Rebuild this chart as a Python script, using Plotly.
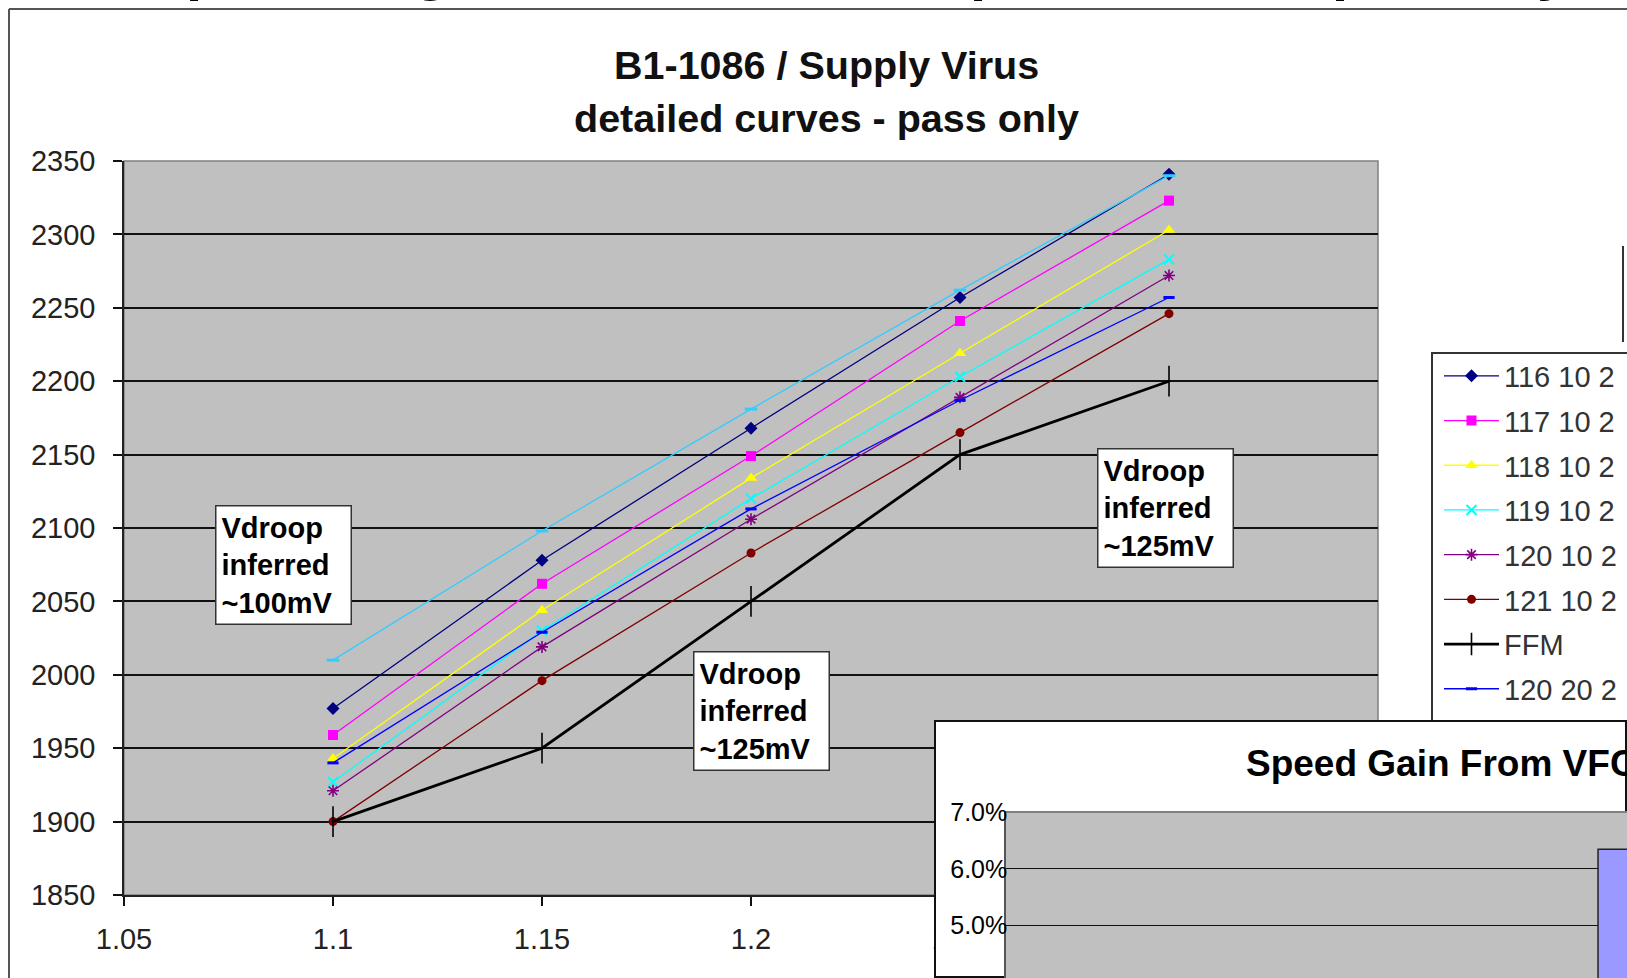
import plotly.graph_objects as go

W, H = 1627, 978
FONT = "Liberation Sans, Arial, sans-serif"

# Supply voltage (V)
vcc = [1.1, 1.15, 1.2, 1.25, 1.3]

# Passing frequency (MHz) for each part / setting
f_116_10_2 = [1977, 2078, 2168, 2257, 2341]
f_117_10_2 = [1959, 2062, 2149, 2241, 2323]
f_118_10_2 = [1943, 2044, 2134, 2219, 2303]
f_119_10_2 = [1927, 2030, 2120, 2203, 2283]
f_120_10_2 = [1921, 2019, 2106, 2189, 2272]
f_121_10_2 = [1900, 1996, 2083, 2165, 2246]
f_ffm = [1900, 1950, 2050, 2150, 2200]
f_120_20_2 = [1940, 2029, 2113, 2187, 2257]
f_116_20_2 = [2010, 2098, 2181, 2262, 2340]

x_ticks = [1.05, 1.1, 1.15, 1.2, 1.25, 1.3, 1.35]
x_tick_text = ["1.05", "1.1", "1.15", "1.2", "1.25", "1.3", "1.35"]

# Speed gain inset
gain_pos = [0]
gain_pct = [6.35]
gain_ticks = [5, 6, 7]
gain_tick_text = ["5.0%", "6.0%", "7.0%"]
gain_low_label = "4.0%"


def px_x(p):
    return p / W


def px_y(p):
    return 1 - p / H


series = [
    ("116 10 2", f_116_10_2, "#000080", "diamond", 10, 1.3, None),
    ("117 10 2", f_117_10_2, "#FF00FF", "square", 10, 1.3, None),
    ("118 10 2", f_118_10_2, "#FFFF00", "triangle-up", 11, 1.3, None),
    ("119 10 2", f_119_10_2, "#00FFFF", "x-thin-open", 10, 1.3, 2),
    ("120 10 2", f_120_10_2, "#800080", "asterisk-open", 10, 1.3, 1.6),
    ("121 10 2", f_121_10_2, "#800000", "circle", 9, 1.3, None),
    ("FFM", f_ffm, "#000000", "line-ns-open", 22, 2.8, 1.6),
    ("120 20 2", f_120_20_2, "#0000FF", "line-ew-open", 8, 1.3, 3),
]

fig = go.Figure()

for name, ys, color, symbol, size, lw, mlw in series:
    marker = dict(symbol=symbol, size=size, color=color)
    if mlw is not None:
        marker["line"] = dict(color=color, width=mlw)
    else:
        marker["line"] = dict(width=0)
    fig.add_trace(go.Scatter(
        x=vcc, y=ys, name=name, mode="lines+markers",
        line=dict(color=color, width=lw), marker=marker,
        legendgroup=name, xaxis="x", yaxis="y",
    ))

fig.add_trace(go.Scatter(
    x=vcc, y=f_116_20_2, name="116 20 2", mode="lines+markers",
    line=dict(color="#33CCFF", width=1.3),
    marker=dict(symbol="line-ew-open", size=9, color="#33CCFF",
                line=dict(color="#33CCFF", width=3)),
    showlegend=False, xaxis="x", yaxis="y",
))

# White panel of the speed-gain chart laid over the lower right corner
fig.add_trace(go.Scatter(
    x=[0, 1, 1, 0, 0], y=[0, 0, 1, 1, 0], mode="lines", fill="toself",
    fillcolor="white", line=dict(color="#111111", width=4),
    hoverinfo="skip", showlegend=False, xaxis="x2", yaxis="y2",
))

fig.add_trace(go.Bar(
    x=gain_pos, y=gain_pct, width=0.5, name="gain",
    marker=dict(color="#9999FF", line=dict(color="#222222", width=1.5)),
    showlegend=False, xaxis="x3", yaxis="y3",
))

annotations = [
    dict(text="<b>B1-1086 / Supply Virus</b>", x=px_x(827), y=px_y(65),
         font=dict(size=39.5, color="#111111", family=FONT)),
    dict(text="<b>detailed curves - pass only</b>", x=px_x(827), y=px_y(118),
         font=dict(size=39.5, color="#111111", family=FONT)),
    dict(text="<b>Speed Gain From VFC</b>", x=px_x(1244), y=px_y(763),
         xanchor="left", font=dict(size=37, color="#000000", family=FONT)),
    dict(text=gain_low_label, x=px_x(1009), y=px_y(990), xanchor="right",
         font=dict(size=25, color="#000000", family=FONT)),
]
for a in annotations:
    a.update(xref="paper", yref="paper", showarrow=False)
    a.setdefault("xanchor", "center")
    a.setdefault("yanchor", "middle")

boxes = [
    ("Vdroop<br>inferred<br>~100mV", 215, 505),
    ("Vdroop<br>inferred<br>~125mV", 693, 651),
    ("Vdroop<br>inferred<br>~125mV", 1097, 448),
]
for txt, bx, by in boxes:
    annotations.append(dict(
        text="<b>" + txt + "</b>", x=px_x(bx), y=px_y(by), xref="paper", yref="paper",
        xanchor="left", yanchor="top", align="left", showarrow=False, width=124,
        bgcolor="white", bordercolor="#333333", borderwidth=1.5, borderpad=5,
        font=dict(size=29, color="#000000", family=FONT),
    ))

# Tails of the slide heading cut off by the top edge
for ch, gx in [("p", 203), ("g", 431), ("p", 988), ("p", 1349), ("y", 1553)]:
    annotations.append(dict(
        text="<b>" + ch + "</b>", x=px_x(gx), y=px_y(3), xref="paper", yref="paper",
        xanchor="center", yanchor="bottom", showarrow=False,
        font=dict(size=58, color="#000000", family=FONT),
    ))

shapes = [
    # chart frame
    dict(type="line", xref="paper", yref="paper", x0=px_x(9), x1=px_x(9),
         y0=0, y1=px_y(9), line=dict(color="#555555", width=2), layer="below"),
    dict(type="line", xref="paper", yref="paper", x0=px_x(9), x1=1,
         y0=px_y(9), y1=px_y(9), line=dict(color="#555555", width=2), layer="below"),
    # edge of a neighbouring object at the right border
    dict(type="line", xref="paper", yref="paper", x0=px_x(1623), x1=px_x(1623),
         y0=px_y(342), y1=px_y(246), line=dict(color="#333333", width=2), layer="below"),
    # plot area border
    dict(type="rect", xref="x domain", yref="y domain", x0=0, x1=1, y0=0, y1=1,
         line=dict(color="#808080", width=1.5), layer="below"),
    # legend box
    dict(type="rect", xref="paper", yref="paper", x0=px_x(1432), x1=1.05,
         y0=px_y(745), y1=px_y(353), fillcolor="white",
         line=dict(color="#333333", width=2), layer="below"),
]

fig.update_layout(
    width=W, height=H,
    margin=dict(l=0, r=0, t=0, b=0, autoexpand=False),
    paper_bgcolor="white", plot_bgcolor="#C0C0C0",
    font=dict(family=FONT, color="#222222"),
    showlegend=True,
    legend=dict(x=px_x(1439), xanchor="left", y=px_y(350.5), yanchor="top",
                bgcolor="rgba(0,0,0,0)", borderwidth=0, itemwidth=55,
                tracegroupgap=4, traceorder="grouped",
                font=dict(size=29, color="#333333", family=FONT)),
    xaxis=dict(domain=[px_x(124), px_x(1378)], range=[1.05, 1.35], anchor="y",
               tickvals=x_ticks, ticktext=x_tick_text, automargin=False,
               ticks="outside", ticklen=9, tickwidth=1.5, tickcolor="#111111",
               showline=True, linecolor="#222222", linewidth=1.5,
               showgrid=False, zeroline=False,
               tickfont=dict(size=29, color="#222222"), ticklabelstandoff=8),
    yaxis=dict(domain=[px_y(895), px_y(161)], range=[1850, 2350], anchor="x",
               tick0=1850, dtick=50, automargin=False,
               ticks="outside", ticklen=9, tickwidth=1.5, tickcolor="#111111",
               showline=True, linecolor="#222222", linewidth=1.5,
               showgrid=True, gridcolor="#111111", gridwidth=1.6, zeroline=False,
               tickfont=dict(size=29, color="#222222"), ticklabelstandoff=12),
    xaxis2=dict(domain=[px_x(934), 1], range=[0, 1], anchor="y2",
                visible=False, automargin=False),
    yaxis2=dict(domain=[0, px_y(720)], range=[0, 1], anchor="x2",
                visible=False, automargin=False),
    xaxis3=dict(domain=[px_x(1006), 1], range=[-5.97, 0.03], anchor="y3",
                showticklabels=False, ticks="", showgrid=False, zeroline=False,
                automargin=False,
                showline=True, linecolor="#808080", linewidth=1.5, mirror=True),
    yaxis3=dict(domain=[0, px_y(812.5)], range=[4.07, 7.0], anchor="x3",
                tickvals=gain_ticks, ticktext=gain_tick_text, automargin=False,
                ticks="", showgrid=True, gridcolor="#111111", gridwidth=1.2,
                zeroline=False, showline=True, linecolor="#555555", linewidth=1.5,
                mirror=True, tickfont=dict(size=25, color="#000000"),
                ticklabelstandoff=-8),
    annotations=annotations,
    shapes=shapes,
)

fig.write_html("out.html")
